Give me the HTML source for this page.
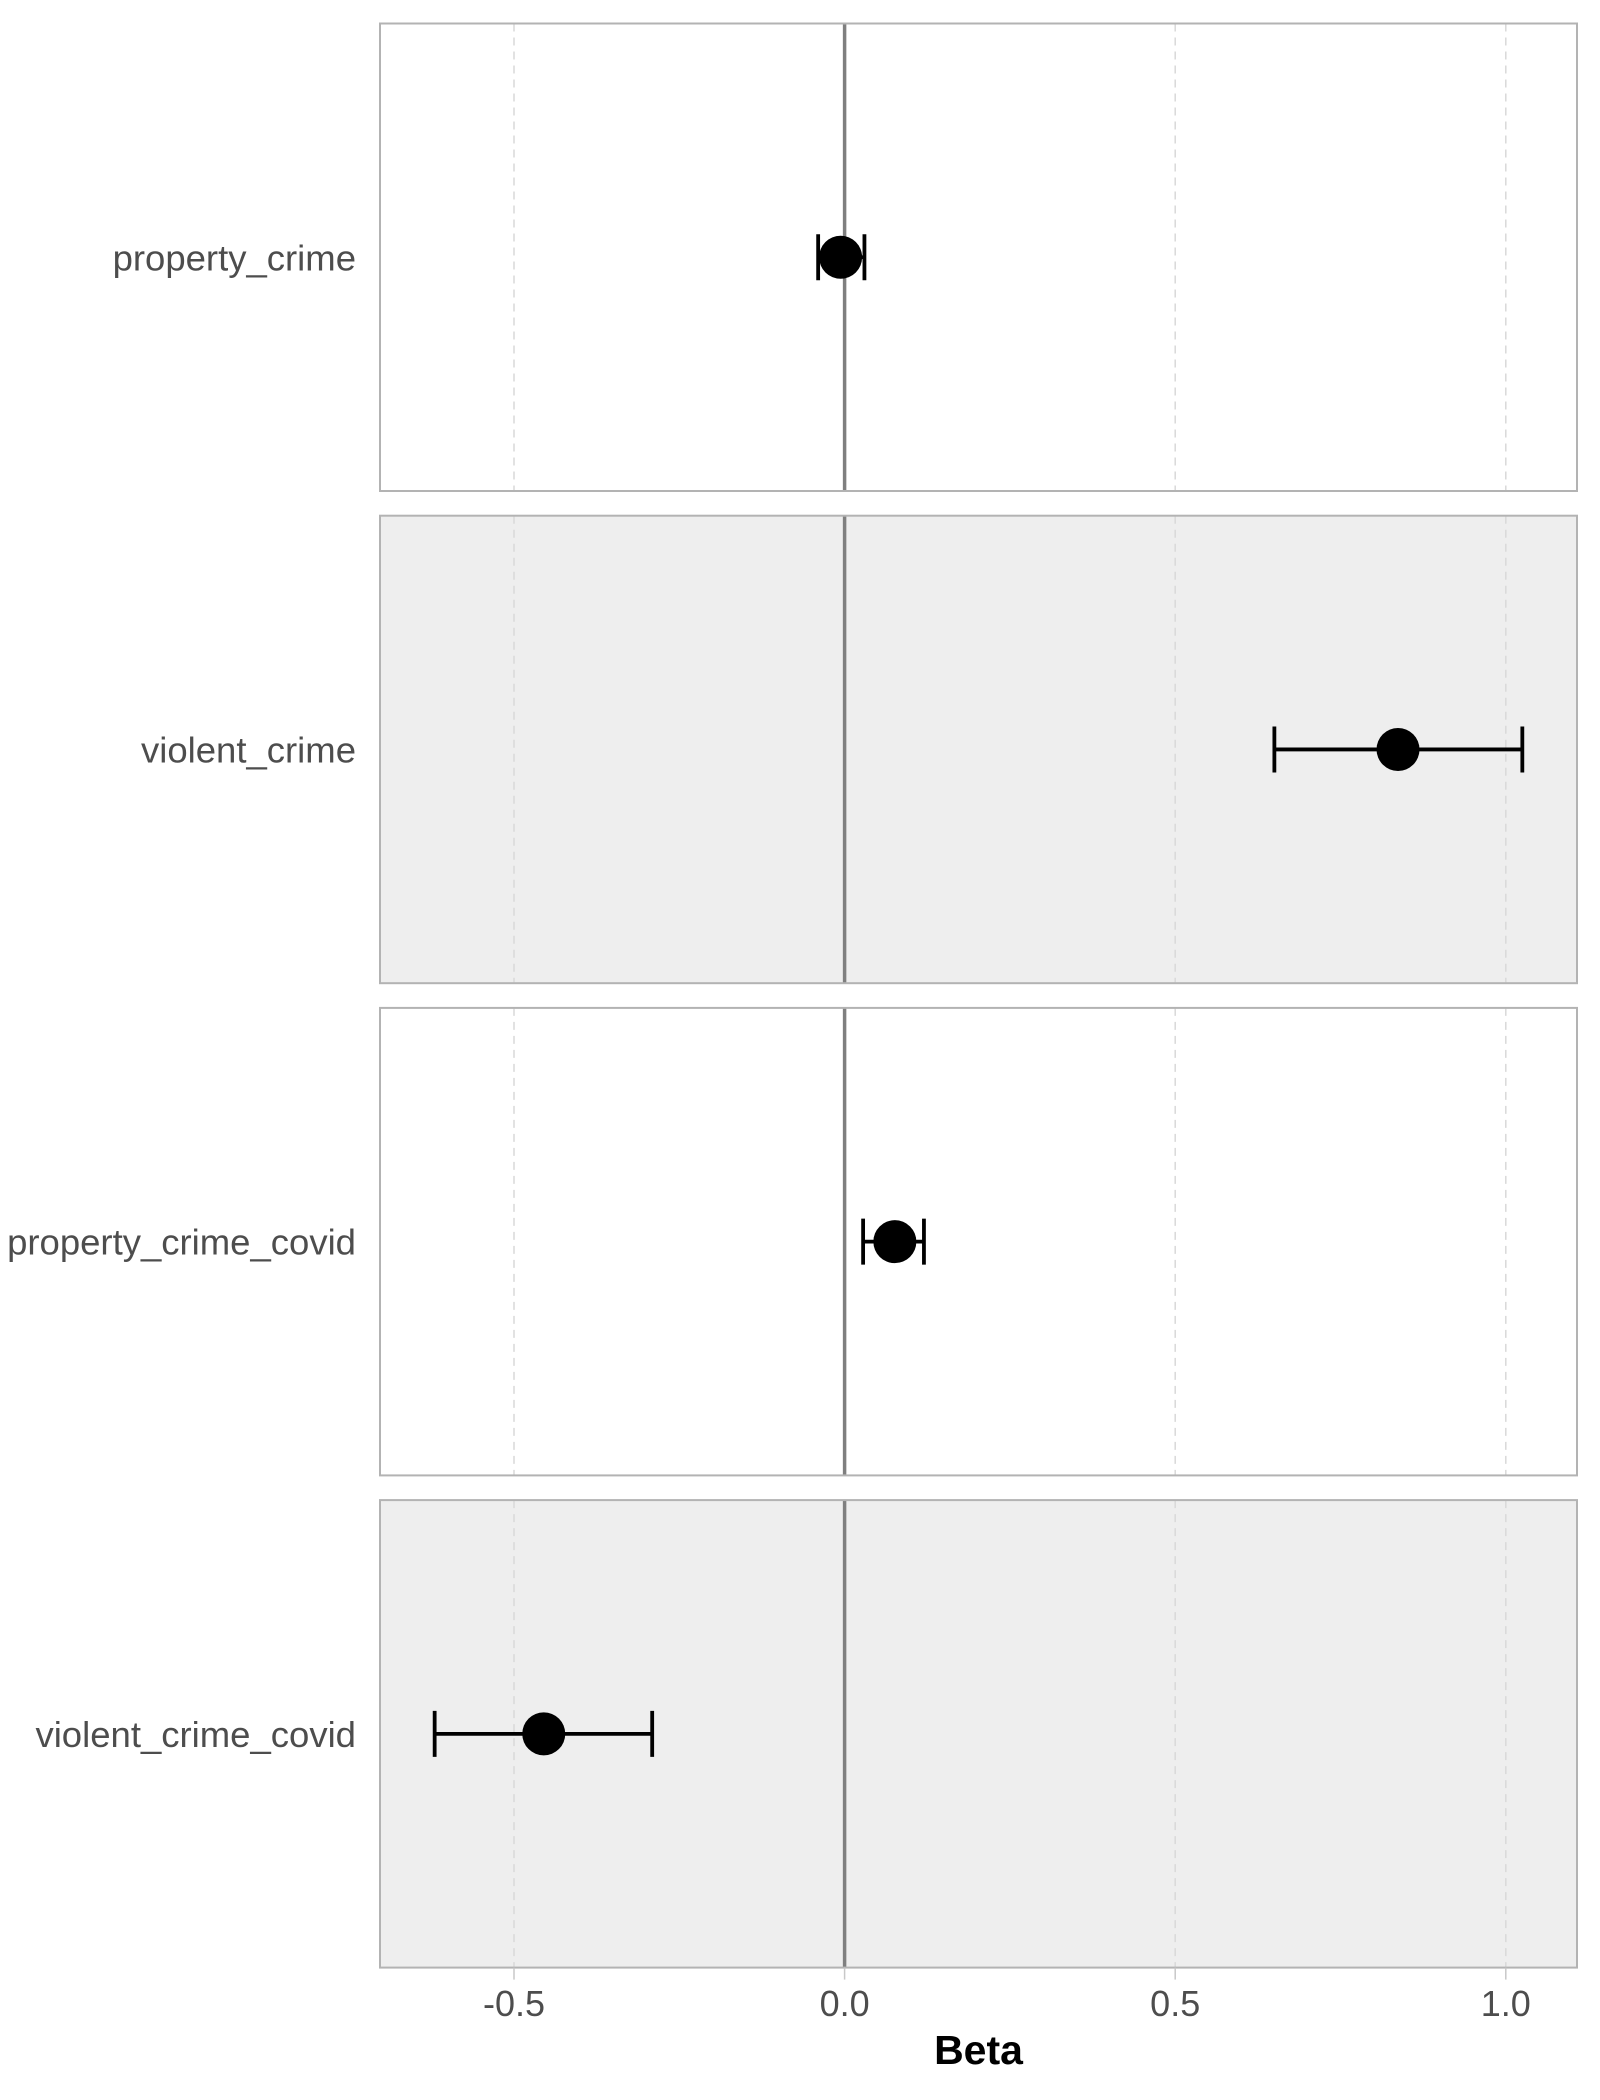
<!DOCTYPE html>
<html><head><meta charset="utf-8"><style>
html,body{margin:0;padding:0;background:#fff;}
svg{display:block;font-family:"Liberation Sans",sans-serif;}
</style></head><body>
<svg id="chart" width="1600" height="2100" viewBox="0 0 1600 2100"></svg>
<script>
const categories = ["property_crime","violent_crime","property_crime_covid","violent_crime_covid"];
const estimates = [-0.006, 0.837, 0.076, -0.455];
const lowerCI = [-0.040, 0.650, 0.028, -0.620];
const upperCI = [0.030, 1.025, 0.120, -0.291];
const xTicks = [-0.5, 0, 0.5, 1.0];
const xTickLabels = ["-0.5","0.0","0.5","1.0"];

const NS = "http://www.w3.org/2000/svg";
const svg = document.getElementById('chart');
const L = 380, R = 1577, top0 = 23.5, pH = 467.5, gap = 24.7;
const x0px = 844.6, pxPerUnit = 661.2;
function xs(v){ return x0px + v * pxPerUnit; }
function mk(tag, attrs, parent){ const e = document.createElementNS(NS, tag); for (const k in attrs) e.setAttribute(k, attrs[k]); (parent||svg).appendChild(e); return e; }

categories.forEach((cat, i) => {
  const y = top0 + i * (pH + gap);
  const g = mk('g', {});
  
  
  const bg = mk('rect', {x:L, y:y, width:R-L, height:pH, fill: i%2 ? '#eeeeee' : '#ffffff'}, g);
  
  
  xTicks.forEach(t => {
    if (t === 0) return;
    const gl = mk('line', {x1:xs(t), x2:xs(t), y1:y, y2:y+pH, stroke:'#d9d9d9', 'stroke-width':1.5, 'stroke-dasharray':'8,6'}, g);
    
    
  });
  const zl = mk('line', {x1:xs(0), x2:xs(0), y1:y, y2:y+pH, stroke:'#7f7f7f', 'stroke-width':3.5}, g);
  
  
  const br = mk('rect', {x:L, y:y, width:R-L, height:pH, fill:'none', stroke:'#b3b3b3', 'stroke-width':2}, g);
  
  
  const cy = y + pH/2;
  const lab = mk('text', {x:356, y:cy+13, 'text-anchor':'end', 'font-size':36.5, fill:'#4d4d4d'}, g);
  lab.textContent = cat;
  
  
  const eb = mk('g', {stroke:'#000', 'stroke-width':3.8}, g);
  
  
  mk('line', {x1:xs(lowerCI[i]), x2:xs(upperCI[i]), y1:cy, y2:cy}, eb);
  mk('line', {x1:xs(lowerCI[i]), x2:xs(lowerCI[i]), y1:cy-23, y2:cy+23}, eb);
  mk('line', {x1:xs(upperCI[i]), x2:xs(upperCI[i]), y1:cy-23, y2:cy+23}, eb);
  const pt = mk('circle', {cx:xs(estimates[i]), cy:cy, r:21.5, fill:'#000'}, g);
  
  
});

const bottom = top0 + 3*(pH+gap) + pH;
xTicks.forEach((t, j) => {
  const tk = mk('line', {x1:xs(t), x2:xs(t), y1:bottom, y2:bottom+12, stroke:'#c8c8c8', 'stroke-width':1.5});
  
  
  const tl = mk('text', {x:xs(t), y:2016, 'text-anchor':'middle', 'font-size':36, fill:'#4d4d4d'});
  tl.textContent = xTickLabels[j];
  
  
});
const title = mk('text', {x:(L+R)/2, y:2064, 'text-anchor':'middle', 'font-size':41, 'font-weight':'bold', fill:'#000'});
title.textContent = 'Beta';


</script>
</body></html>
